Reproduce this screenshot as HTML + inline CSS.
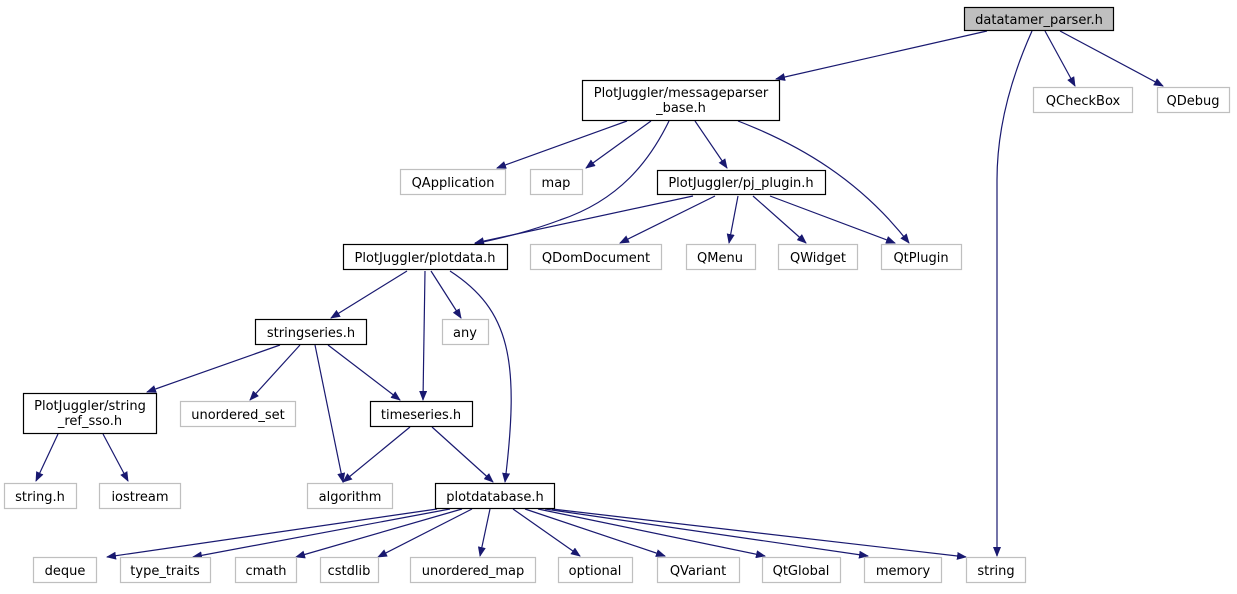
<!DOCTYPE html>
<html><head><meta charset="utf-8"><style>
body{margin:0;background:#fff}
svg text{font-family:"DejaVu Sans","Liberation Sans",sans-serif;font-size:13px;text-anchor:middle}
</style></head><body>
<svg width="1237" height="589" viewBox="0 0 1237 589" xmlns="http://www.w3.org/2000/svg">
<defs><marker id="a" markerWidth="10" markerHeight="8" refX="9" refY="4" orient="auto" markerUnits="userSpaceOnUse"><path d="M0,0L10,4L0,8z" fill="#191970"/></marker></defs>
<g fill="none" stroke="#191970" stroke-width="1.2" marker-end="url(#a)">
<path d="M987,31L776,79"/>
<path d="M1032,31C1010,80 997,130 997,180L997,556"/>
<path d="M1045,31L1075,86"/>
<path d="M1060,31L1163,86"/>
<path d="M627,121L497,168"/>
<path d="M651,121L586,168"/>
<path d="M669,121C650,160 620,200 560,220C520,235 490,240 475,244"/>
<path d="M695,121L727,168"/>
<path d="M738,121C800,145 860,180 909,243"/>
<path d="M693,196L475,243"/>
<path d="M715,196L620,243"/>
<path d="M738,196L729,243"/>
<path d="M753,196L806,243"/>
<path d="M770,196L895,243"/>
<path d="M407,271L331,318"/>
<path d="M425,271L423,400"/>
<path d="M431,271L461,318"/>
<path d="M450,271C510,310 520,360 505,482"/>
<path d="M280,345L147,392"/>
<path d="M300,345L250,400"/>
<path d="M315,345L343,482"/>
<path d="M328,345L400,400"/>
<path d="M58,434L36,481"/>
<path d="M103,434L128,481"/>
<path d="M410,427L343,482"/>
<path d="M432,427L493,482"/>
<path d="M437,509L107,557"/>
<path d="M450,509L193,557"/>
<path d="M462,509L296,557"/>
<path d="M472,509L378,557"/>
<path d="M490,509L480,556"/>
<path d="M513,509L580,556"/>
<path d="M525,509L665,556"/>
<path d="M538,509L765,556"/>
<path d="M545,509L868,556"/>
<path d="M552,509L966,557"/>
</g>
<g stroke-width="1.2" fill="#fff">
<rect x="964.5" y="7.5" width="149" height="23" fill="#bfbfbf" stroke="#000"/>
<rect x="582.5" y="80.5" width="197" height="40" stroke="#000"/>
<rect x="1033.5" y="87.5" width="99" height="25" stroke="#bfbfbf"/>
<rect x="1157.5" y="87.5" width="72" height="25" stroke="#bfbfbf"/>
<rect x="400.5" y="169.5" width="105" height="25" stroke="#bfbfbf"/>
<rect x="530.5" y="169.5" width="52" height="25" stroke="#bfbfbf"/>
<rect x="657.5" y="170.5" width="168" height="24" stroke="#000"/>
<rect x="343.5" y="244.5" width="164" height="25" stroke="#000"/>
<rect x="530.5" y="244.5" width="131" height="25" stroke="#bfbfbf"/>
<rect x="686.5" y="244.5" width="69" height="25" stroke="#bfbfbf"/>
<rect x="778.5" y="244.5" width="79" height="25" stroke="#bfbfbf"/>
<rect x="881.5" y="244.5" width="80" height="25" stroke="#bfbfbf"/>
<rect x="255.5" y="319.5" width="111" height="25" stroke="#000"/>
<rect x="442.5" y="319.5" width="46" height="25" stroke="#bfbfbf"/>
<rect x="23.5" y="393.5" width="133" height="40" stroke="#000"/>
<rect x="180.5" y="401.5" width="115" height="25" stroke="#bfbfbf"/>
<rect x="370.5" y="401.5" width="102" height="25" stroke="#000"/>
<rect x="4.5" y="483.5" width="72" height="25" stroke="#bfbfbf"/>
<rect x="99.5" y="483.5" width="81" height="25" stroke="#bfbfbf"/>
<rect x="307.5" y="483.5" width="85" height="25" stroke="#bfbfbf"/>
<rect x="435.5" y="483.5" width="119" height="25" stroke="#000"/>
<rect x="33.5" y="557.5" width="63" height="25" stroke="#bfbfbf"/>
<rect x="120.5" y="557.5" width="90" height="25" stroke="#bfbfbf"/>
<rect x="235.5" y="557.5" width="61" height="25" stroke="#bfbfbf"/>
<rect x="320.5" y="557.5" width="58" height="25" stroke="#bfbfbf"/>
<rect x="410.5" y="557.5" width="125" height="25" stroke="#bfbfbf"/>
<rect x="558.5" y="557.5" width="74" height="25" stroke="#bfbfbf"/>
<rect x="657.5" y="557.5" width="82" height="25" stroke="#bfbfbf"/>
<rect x="762.5" y="557.5" width="78" height="25" stroke="#bfbfbf"/>
<rect x="864.5" y="557.5" width="77" height="25" stroke="#bfbfbf"/>
<rect x="966.5" y="557.5" width="59" height="25" stroke="#bfbfbf"/>
</g>
<g fill="#000">
<text x="1039" y="24">datatamer_parser.h</text>
<text x="681" y="97">PlotJuggler/messageparser</text>
<text x="681" y="112">_base.h</text>
<text x="1083" y="105">QCheckBox</text>
<text x="1193" y="105">QDebug</text>
<text x="453" y="187">QApplication</text>
<text x="556" y="187">map</text>
<text x="741" y="187">PlotJuggler/pj_plugin.h</text>
<text x="425" y="262">PlotJuggler/plotdata.h</text>
<text x="596" y="262">QDomDocument</text>
<text x="720" y="262">QMenu</text>
<text x="818" y="262">QWidget</text>
<text x="921" y="262">QtPlugin</text>
<text x="311" y="337">stringseries.h</text>
<text x="465" y="337">any</text>
<text x="90" y="410">PlotJuggler/string</text>
<text x="90" y="425">_ref_sso.h</text>
<text x="238" y="419">unordered_set</text>
<text x="421" y="419">timeseries.h</text>
<text x="40" y="501">string.h</text>
<text x="140" y="501">iostream</text>
<text x="350" y="501">algorithm</text>
<text x="495" y="501">plotdatabase.h</text>
<text x="65" y="575">deque</text>
<text x="165" y="575">type_traits</text>
<text x="266" y="575">cmath</text>
<text x="349" y="575">cstdlib</text>
<text x="473" y="575">unordered_map</text>
<text x="595" y="575">optional</text>
<text x="698" y="575">QVariant</text>
<text x="801" y="575">QtGlobal</text>
<text x="903" y="575">memory</text>
<text x="996" y="575">string</text>
</g>
</svg>
</body></html>
